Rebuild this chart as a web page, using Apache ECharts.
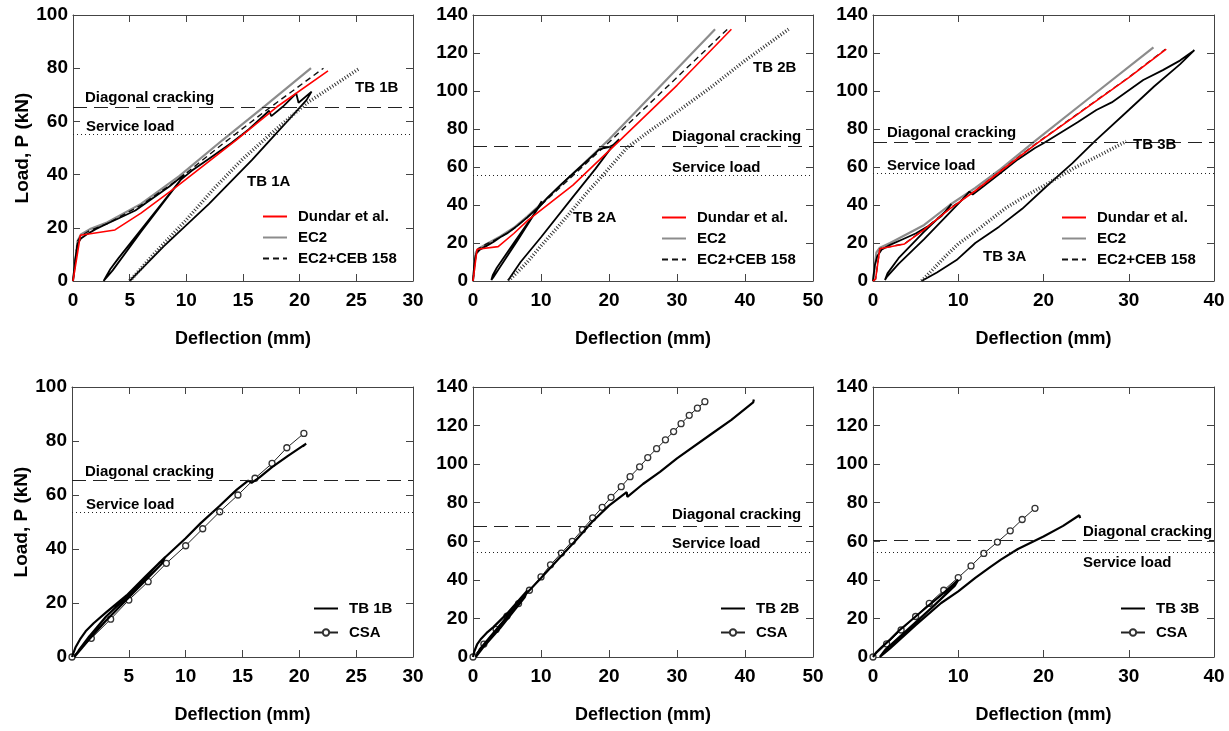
<!DOCTYPE html>
<html>
<head>
<meta charset="utf-8">
<script src="https://cdn.jsdelivr.net/npm/echarts@6/dist/echarts.min.js"></script>
<style>
  html, body { margin: 0; padding: 0; background: #fff; }
  #container { width: 1229px; height: 731px; }
</style>
</head>
<body>
<div id="container"></div>
<script>
var dom = document.getElementById("container");
var myChart = echarts.init(dom);

// ---- data: [deflection mm, load kN] ----
// panel 1 (TB 1)
var dundar1 = [[0,0],[0.65,17.2],[3.7,19.2],[6,25.5],[9,35],[14.4,53],[18,65.5],[22.5,79]];
var ec2_1 = [[0,0],[0.4,15],[0.7,17.5],[1.5,19.5],[3,22],[6,29],[9.4,39.5],[13.2,53],[17,66],[21,80]];
var ec2ceb1 = [[0,0],[0.4,15],[0.7,17],[1.5,19],[3,21.5],[6,28.5],[9.4,38.5],[13.2,51.5],[17,64],[22.1,80]];
var tb1aTop = [[0,0],[0.2,8],[0.4,14],[0.7,16],[1.2,17.5],[2,19.5],[3,21.5],[4,23.5],[5.5,26.5],[7,31],[8.5,35.5],[9.8,40],
  [9.5,38],[4,8.5],[3.3,4.5],[2.9,1.5],[2.7,0],[3.5,4],[6,18.5],[9.5,38],[10.5,41.5],[12,46],[14,52],[15.5,57],[17.3,64],
  [17.5,62],[18.5,65.5],[19.7,70.5],[19.9,67],[21.05,71.2],[20.6,68],[19,60.5],[15.8,45.5],[12,29],[8,13],[5,0]];
var tb1bTop = [[5,0],[7,9.5],[10,23],[12.5,35],[15,46],[17.5,55.5],[20.6,66.8],[23,73.5],[25.3,80]];

// panel 2 (TB 2)
var dundar2 = [[0,0],[0.6,16.7],[3.7,18.1],[6,25],[8.1,32],[14.7,50.5],[21.6,74],[30,103],[38,132.5]];
var ec2_2 = [[0,0],[0.4,15],[0.8,17],[2,19.5],[4,23.5],[6,28],[8,34],[10,40.5],[15,57.5],[20,74.5],[35.6,132.5]];
var ec2ceb2 = [[0,0],[0.4,15],[0.8,17],[2,19.5],[4,23],[6,27.5],[8,33.5],[10,40],[15,56.5],[20,73],[37.7,133.5]];
var tb2aTop = [[0,0],[0.2,9],[0.5,14.5],[1,16.5],[2,18.5],[3,20.5],[4,23],[5,25],[6.5,29],[8,33.5],[9.5,38.5],[10.1,42],
  [9.7,39],[6,20],[3.5,7],[2.9,3],[2.7,0.5],[3,2],[4,7.5],[6.5,21],[9.5,38],[11,44],[13,51],[15,57.5],[17,64],[18.5,69],
  [19.3,70],[20,70.5],[20.6,71.5],[21.5,74.6],[20.5,71],[18,59],[14.7,44.3],[10,23],[7,10],[5.2,0.5]];
var tb2bTop = [[5.2,0],[8,10],[10,18.5],[12.5,28.5],[15,39],[17,47.5],[19.2,56],[22.6,70],[26,79],[30,89],[35,102],[40,116],[46.4,132.5]];

// panel 3 (TB 3)
var dundar3 = [[0,0],[0.3,1],[0.8,17],[3.7,19.5],[6,27],[9,38],[12,47.5],[15.6,60],[19.1,72],[25,91],[30,107],[34.4,122]];
var ec2_3 = [[0,0],[0.4,15],[0.8,17.5],[2,20],[3.9,24.5],[6,29.5],[9,40],[12,49],[15,59],[19.1,74],[25,95],[32.9,123]];
var ec2ceb3 = [[0,0],[0.3,1],[0.8,17],[3.7,19.6],[6,27.2],[9,38.2],[12,47.6],[15.6,60.2],[19.1,72.2],[25,91.2],[30,107.2],[34.3,122]];
var tb3aTop = [[0,0],[0.2,8],[0.5,13],[1,16.5],[2,19],[3.5,22],[5,25],[6.5,29],[8,34],[9.2,40.5],[8.8,38],[6,26],[3,12],
  [1.7,4],[1.4,0.5],[1.6,2],[3,9],[6,22],[9,36],[10.5,43],[11.3,47],[11.7,45.5],[13,50],[15,57],[17,64],[19,70],[20,72.5],
  [22,78],[24,83.5],[26.2,90],[28,94],[31.7,105.8],[34,111],[36,116],[37.7,121.5],[36,114],[33,102.5],[30,90],[26,73.5],
  [23.4,62],[20.3,49.6],[17.5,38],[14.8,28.6],[12,20],[9.8,11],[7.5,4.5],[5.7,0]];
var tb3bTop = [[5.7,0],[7,6],[8.5,13],[10,19.5],[12,26],[14,33],[15.6,38.5],[18,45],[20,50],[23.4,59],[26.5,66],[29.7,73.5]];

// panel 4-6 (B beams vs CSA)
var tb1b = [[0,0],[0.3,3.5],[0.7,6.5],[1.2,9.5],[1.9,12.5],[3,16.5],[4.8,22.8],[6.5,30],[8.2,37],[7.9,34.5],[5,22],[3,13.5],
  [1.5,6.5],[0.5,1.5],[0.2,0],[0.6,2.5],[1.5,7.5],[3,15],[5,23],[7.7,35],[10,44],[11.3,49.5],[13,56],[14.5,62],[15.5,65.3],
  [15.8,64.5],[16.5,66.5],[17.6,70.3],[19,74.5],[20.6,79],[20.3,78]];
var csa1 = [[0,0],[1.7,6.9],[3.4,14],[5,21.1],[6.7,27.9],[8.3,34.7],[10,41.2],[11.5,47.5],[13,53.8],[14.6,60],[16.1,66.2],
  [17.6,71.7],[18.9,77.5],[20.4,82.8]];
var tb2b = [[0,0],[0.2,3],[0.6,6.5],[1.2,9.5],[2,12.5],[3,15.5],[5,22.5],[8,34.5],[7.6,31],[4,15],[1.5,5],[0.4,0],[1,4],
  [3,12.5],[6,25],[8,33.5],[10,41],[12.5,50.5],[15,60],[17.5,70],[20,78.5],[22.6,85.5],[22.7,83],[25,89.7],[27.5,96],
  [30,103],[35,115.5],[38,123],[41.2,132],[41.3,133.5]];
var csa2 = [[0,0],[1.6,6.7],[3.4,14.3],[5,21.2],[6.7,27.7],[8.3,34.6],[10,41.5],[11.4,47.8],[13,53.9],[14.6,60],[16.1,66],
  [17.6,72.1],[19,77.6],[20.3,82.8],[21.8,88.3],[23.1,93.5],[24.5,98.6],[25.7,103.4],[27,108],[28.3,112.6],[29.5,116.9],
  [30.6,121],[31.8,125.3],[33,129],[34.1,132.4]];
var tb3b = [[0,0],[0.4,2.5],[1,5],[2,9],[3,13.5],[5,21],[7,28.5],[8.5,34],[10,40],[9.6,37],[7,26],[4,14],[1.5,4],[0.8,0],
  [2,4.5],[5,16.5],[8,28],[10,34],[12,41],[13.7,46.5],[15,50.5],[17,56],[20,62.5],[22.3,68],[24.2,73.5],[24.3,72]];
var csa3 = [[0,0],[1.6,6.8],[3.3,14],[5,21],[6.6,27.8],[8.3,34.6],[10,41.2],[11.5,47.2],[13,53.7],[14.6,59.6],[16.1,65.4],
  [17.5,71.3],[19,77.1]];

// reference loads per panel
var diagLoad = [65.3, 70.7, 73, 65.3, 68, 60.5];
var serviceLoad = [55.3, 55.8, 56.7, 53.6, 54.4, 54.3];

// axes ranges per panel
var xMax = [30, 50, 40, 30, 50, 40];
var xStep = [5, 10, 10, 5, 10, 10];
var yMax = [100, 140, 140, 100, 140, 140];

var FONT = '"Liberation Sans", Arial, sans-serif';
var AXIS_COLOR = '#444';

var grids = [
  {left: 73, top: 15, width: 340, height: 266},
  {left: 473, top: 15, width: 340, height: 266},
  {left: 873, top: 15, width: 341, height: 266},
  {left: 72, top: 387, width: 341, height: 270},
  {left: 473, top: 387, width: 340, height: 270},
  {left: 873, top: 387, width: 341, height: 270}
];

var axisLine = {onZero: false, lineStyle: {color: AXIS_COLOR, width: 1}};
var axisTick = {inside: true, length: 7, lineStyle: {color: AXIS_COLOR}};

var xAxes = [], yAxes = [];
for (var i = 0; i < 6; i++) {
  xAxes.push({
    gridIndex: i, type: 'value', min: 0, max: xMax[i], interval: xStep[i], position: 'bottom',
    name: 'Deflection (mm)', nameLocation: 'middle', nameGap: 49,
    nameTextStyle: {fontFamily: FONT, fontWeight: 'bold', fontSize: 18, color: '#000'},
    axisLine: axisLine, axisTick: axisTick,
    axisLabel: {fontFamily: FONT, fontWeight: 'bold', fontSize: 19, color: '#000', margin: 10, showMinLabel: i !== 3},
    splitLine: {show: false}
  });
  xAxes.push({
    gridIndex: i, type: 'value', min: 0, max: xMax[i], interval: xStep[i], position: 'top',
    axisLine: axisLine, axisTick: axisTick,
    axisLabel: {show: false}, splitLine: {show: false}
  });
  yAxes.push({
    gridIndex: i, type: 'value', min: 0, max: yMax[i], interval: 20, position: 'left',
    name: (i % 3 === 0) ? 'Load, P (kN)' : '', nameLocation: 'middle', nameGap: 36,
    nameTextStyle: {fontFamily: FONT, fontWeight: 'bold', fontSize: 19, color: '#000'},
    axisLine: axisLine, axisTick: axisTick,
    axisLabel: {fontFamily: FONT, fontWeight: 'bold', fontSize: 19, color: '#000', margin: 5},
    splitLine: {show: false}
  });
  yAxes.push({
    gridIndex: i, type: 'value', min: 0, max: yMax[i], interval: 20, position: 'right',
    axisLine: axisLine, axisTick: axisTick,
    axisLabel: {show: false}, splitLine: {show: false}
  });
}

function line(name, data, p, color, width, type, z) {
  return {
    name: name, type: 'line', data: data, xAxisIndex: 2 * p, yAxisIndex: 2 * p,
    symbol: 'none', smooth: false, silent: true, z: z || 2,
    lineStyle: {color: color, width: width, type: type || 'solid'},
    itemStyle: {color: color}
  };
}

function csaLine(data, p) {
  return {
    name: 'CSA', type: 'line', data: data, xAxisIndex: 2 * p, yAxisIndex: 2 * p,
    symbol: 'circle', symbolSize: 6, silent: true, z: 3,
    lineStyle: {color: '#222', width: 1},
    itemStyle: {color: '#fff', borderColor: '#333', borderWidth: 1.3}
  };
}

function refLines(p) {
  return {
    type: 'line', data: [], xAxisIndex: 2 * p, yAxisIndex: 2 * p, silent: true,
    markLine: {
      silent: true, symbol: 'none', label: {show: false}, animation: false,
      data: [
        {yAxis: diagLoad[p], lineStyle: {color: '#222', width: 1.2, type: [14, 7]}},
        {yAxis: serviceLoad[p], lineStyle: {color: '#222', width: 1.2, type: [1, 3]}}
      ]
    }
  };
}

var hatch = [1, 2];
var series = [];
var tops = [
  [ec2_1, ec2ceb1, tb1aTop, tb1bTop, dundar1],
  [ec2_2, ec2ceb2, tb2aTop, tb2bTop, dundar2],
  [ec2_3, ec2ceb3, tb3aTop, tb3bTop, dundar3]
];
var topNames = ['TB 1B (shifted)', 'TB 2B (shifted)', 'TB 3B (shifted)'];
var expNames = ['TB 1A', 'TB 2A', 'TB 3A'];
for (var p = 0; p < 3; p++) {
  series.push(refLines(p));
  series.push(line('EC2', tops[p][0], p, '#8c8c8c', 2.2, 'solid', 2));
  series.push(line('EC2+CEB 158', tops[p][1], p, '#111', 1.4, [6, 4], 3));
  series.push(line(expNames[p], tops[p][2], p, '#000', 1.8, 'solid', 4));
  series.push(line(topNames[p], tops[p][3], p, '#333', 3.5, hatch, 4));
  series.push(line('Dundar et al.', tops[p][4], p, '#f00', 1.6, 'solid', 5));
}
var bottoms = [[tb1b, csa1, 'TB 1B'], [tb2b, csa2, 'TB 2B'], [tb3b, csa3, 'TB 3B']];
for (var q = 0; q < 3; q++) {
  series.push(refLines(q + 3));
  series.push(line(bottoms[q][2], bottoms[q][0], q + 3, '#000', 2.2, 'solid', 4));
  series.push(csaLine(bottoms[q][1], q + 3));
}

var noSymbol = {opacity: 0};
function legendAt(names, left, top, height, gap) {
  return {
    data: names, orient: 'vertical', left: left, top: top, itemGap: gap,
    itemWidth: 24, itemHeight: height, padding: 0, selectedMode: false,
    textStyle: {fontFamily: FONT, fontWeight: 'bold', fontSize: 15, color: '#000', padding: [0, 0, 0, 6]}
  };
}
var topLegend = [
  {name: 'Dundar et al.', itemStyle: noSymbol},
  {name: 'EC2', itemStyle: noSymbol},
  {name: 'EC2+CEB 158', itemStyle: noSymbol}
];
function bottomLegend(tb) {
  return [{name: tb, itemStyle: noSymbol}, 'CSA'];
}

function note(text, x, y) {
  return {
    type: 'text', x: x, y: y, silent: true, z: 100,
    style: {text: text, fill: '#000', font: 'bold 15px ' + FONT, verticalAlign: 'middle'}
  };
}

option = {
  animation: false,
  backgroundColor: '#fff',
  grid: grids,
  xAxis: xAxes,
  yAxis: yAxes,
  legend: [
    legendAt(topLegend, 262, 209, 14, 6),
    legendAt(topLegend, 661, 210, 14, 6),
    legendAt(topLegend, 1061, 210, 14, 6),
    legendAt(bottomLegend('TB 1B'), 313, 601, 8, 9),
    legendAt(bottomLegend('TB 2B'), 720, 601, 8, 9),
    legendAt(bottomLegend('TB 3B'), 1120, 601, 8, 9)
  ],
  graphic: [
    note('Diagonal cracking', 85, 98),
    note('Service load', 86, 127),
    note('TB 1B', 355, 88),
    note('TB 1A', 247, 182),
    note('Diagonal cracking', 672, 137),
    note('Service load', 672, 168),
    note('TB 2B', 753, 68),
    note('TB 2A', 573, 218),
    note('Diagonal cracking', 887, 133),
    note('Service load', 887, 166),
    note('TB 3B', 1133, 145),
    note('TB 3A', 983, 257),
    note('Diagonal cracking', 85, 472),
    note('Service load', 86, 505),
    note('Diagonal cracking', 672, 515),
    note('Service load', 672, 544),
    note('Diagonal cracking', 1083, 532),
    note('Service load', 1083, 563)
  ],
  series: series
};

if (option && typeof option === "object") {
  myChart.setOption(option, true);
}
</script>
</body>
</html>
